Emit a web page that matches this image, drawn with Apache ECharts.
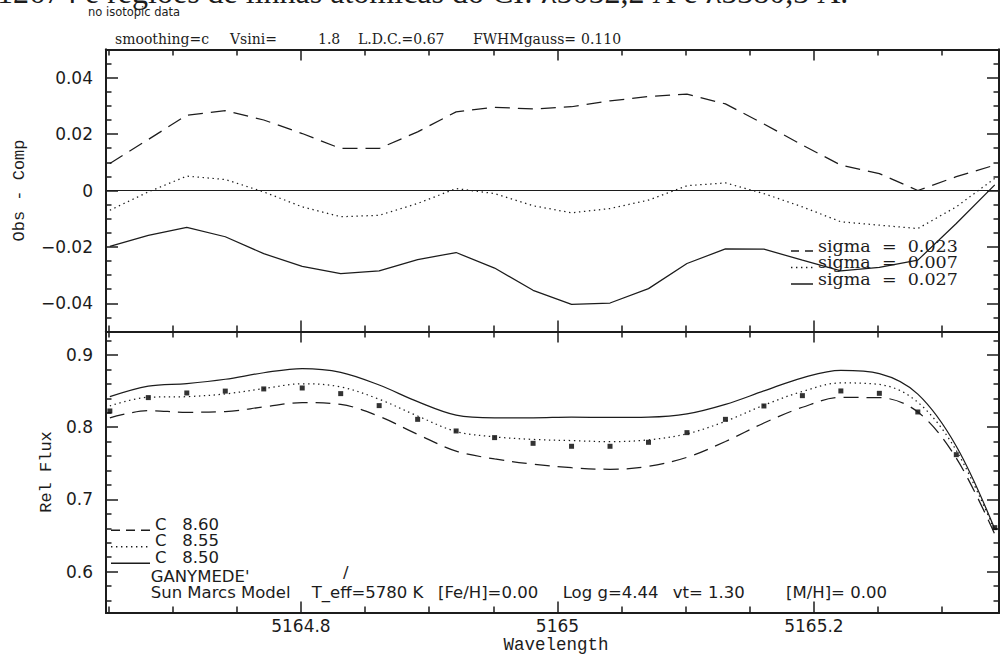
<!DOCTYPE html>
<html><head><meta charset="utf-8">
<script src="https://cdn.jsdelivr.net/npm/echarts@6/dist/echarts.min.js"></script>
<style>html,body{margin:0;padding:0;background:#fff}#c{width:1000px;height:655px}</style>
</head><body><div id="c"></div>
<script>
// ---- data ----
const wavelength = [5164.651, 5164.681, 5164.711, 5164.741, 5164.771, 5164.801, 5164.831, 5164.861,
  5164.891, 5164.921, 5164.951, 5164.981, 5165.011, 5165.041, 5165.071, 5165.101,
  5165.131, 5165.161, 5165.191, 5165.221, 5165.251, 5165.281, 5165.311, 5165.341];
const obsFlux = [0.8225, 0.8410, 0.8474, 0.8500, 0.8530, 0.8543, 0.8465, 0.8299,
  0.8109, 0.7948, 0.7856, 0.7777, 0.7736, 0.7736, 0.7791, 0.7925,
  0.8109, 0.8294, 0.8437, 0.8502, 0.8469, 0.8211, 0.7620, 0.6610];
const resid860 = [0.0096, 0.0181, 0.0267, 0.0283, 0.0250, 0.0202, 0.0149, 0.0149,
  0.0208, 0.0279, 0.0295, 0.0289, 0.0297, 0.0318, 0.0333, 0.0342,
  0.0307, 0.0236, 0.0161, 0.0090, 0.0060, 0.0000, 0.0049, 0.0090];
const resid855 = [-0.0070, -0.0005, 0.0051, 0.0039, -0.0005, -0.0058, -0.0093, -0.0088,
  -0.0046, 0.0007, -0.0011, -0.0054, -0.0079, -0.0064, -0.0034, 0.0017,
  0.0027, -0.0011, -0.0058, -0.0111, -0.0123, -0.0135, -0.0058, 0.0043];
const resid850 = [-0.0198, -0.0159, -0.0131, -0.0164, -0.0224, -0.0269, -0.0295, -0.0285,
  -0.0245, -0.0220, -0.0275, -0.0354, -0.0404, -0.0399, -0.0348, -0.0259,
  -0.0207, -0.0208, -0.0247, -0.0285, -0.0273, -0.0247, -0.0117, 0.0020];
const model860 = [0.8129, 0.8229, 0.8207, 0.8217, 0.8280, 0.8341, 0.8316, 0.8150,
  0.7901, 0.7669, 0.7561, 0.7488, 0.7439, 0.7418, 0.7458, 0.7583,
  0.7802, 0.8058, 0.8276, 0.8412, 0.8409, 0.8211, 0.7571, 0.6520];
const model855 = [0.8295, 0.8415, 0.8423, 0.8461, 0.8535, 0.8601, 0.8558, 0.8387,
  0.8155, 0.7941, 0.7867, 0.7831, 0.7815, 0.7800, 0.7825, 0.7908,
  0.8082, 0.8305, 0.8495, 0.8613, 0.8592, 0.8346, 0.7678, 0.6567];
const model850 = [0.8423, 0.8569, 0.8605, 0.8664, 0.8754, 0.8812, 0.8760, 0.8584,
  0.8354, 0.8168, 0.8131, 0.8131, 0.8140, 0.8135, 0.8139, 0.8184,
  0.8316, 0.8502, 0.8684, 0.8787, 0.8742, 0.8458, 0.7737, 0.6590];

const xMajorTicks = [5164.8, 5165.0, 5165.2];
const xMinorTicks = [5164.65, 5164.70, 5164.75, 5164.85, 5164.90, 5164.95,
  5165.05, 5165.10, 5165.15, 5165.25, 5165.30];
const residMajorTicks = [-0.04, -0.02, 0, 0.02, 0.04];
const residMinorTicks = [-0.045, -0.035, -0.03, -0.025, -0.015, -0.01, -0.005,
  0.005, 0.01, 0.015, 0.025, 0.03, 0.035, 0.045];
const fluxMajorTicks = [0.6, 0.7, 0.8, 0.9];
const fluxMinorTicks = [0.56, 0.58, 0.62, 0.64, 0.66, 0.68, 0.72, 0.74, 0.76, 0.78,
  0.82, 0.84, 0.86, 0.88, 0.92];
const residNames = ['sigma  =  0.023', 'sigma  =  0.007', 'sigma  =  0.027'];
const modelNames = ['C   8.60', 'C   8.55', 'C   8.50'];

const xRange = [5164.648, 5165.3443];
const residRange = [-0.05, 0.05];
const fluxRange = [0.5435, 0.9325];

// ---- styling ----
const INK = '#1c1c1c';
const SANS = '"DejaVu Sans"';
const SERIF = '"DejaVu Serif"';
const MONO = '"Liberation Mono"';

function pairs(xs, ys) { return xs.map((x, i) => [x, ys[i]]); }

function xAx(grid, pos, ticks, len, extra) {
  return Object.assign({
    type: 'value', gridIndex: grid, position: pos, min: xRange[0], max: xRange[1],
    axisLine: { show: true, onZero: false, lineStyle: { color: INK, width: 2 } },
    axisTick: { show: true, inside: true, length: len, customValues: ticks, lineStyle: { color: INK, width: 1.5 } },
    axisLabel: { show: false }, splitLine: { show: false }
  }, extra || {});
}
function yAx(grid, pos, range, ticks, len, extra) {
  return Object.assign({
    type: 'value', gridIndex: grid, position: pos, min: range[0], max: range[1],
    axisLine: { show: true, onZero: false, lineStyle: { color: INK, width: 2 } },
    axisTick: { show: true, inside: true, length: len, customValues: ticks, lineStyle: { color: INK, width: 1.5 } },
    axisLabel: { show: false }, splitLine: { show: false }
  }, extra || {});
}
const tickLabel = { fontFamily: SANS, fontSize: 17, color: INK };

const xAxes = [
  xAx(0, 'bottom', xMajorTicks, 11), xAx(0, 'bottom', xMinorTicks, 6),
  xAx(0, 'top', xMajorTicks, 11), xAx(0, 'top', xMinorTicks, 6),
  xAx(1, 'bottom', xMajorTicks, 11, {
    axisLabel: Object.assign({ show: true, margin: 5, customValues: xMajorTicks,
      formatter: v => String(parseFloat(Number(v).toFixed(1))) }, tickLabel),
    name: 'Wavelength', nameLocation: 'middle', nameGap: 23,
    nameTextStyle: { fontFamily: MONO, fontSize: 17.5, color: INK, padding: [0, 0, 0, 7] }
  }),
  xAx(1, 'bottom', xMinorTicks, 6),
  xAx(1, 'top', xMajorTicks, 11), xAx(1, 'top', xMinorTicks, 6)
];
const yAxes = [
  yAx(0, 'left', residRange, residMajorTicks, 12, {
    axisLabel: Object.assign({ show: true, margin: 13, customValues: residMajorTicks,
      formatter: v => (Math.abs(v) < 1e-9 ? '0' : Number(v).toFixed(2).replace('-', '\u2212')) }, tickLabel),
    name: 'Obs - Comp', nameLocation: 'middle', nameGap: 78,
    nameTextStyle: { fontFamily: MONO, fontSize: 17, color: INK }
  }),
  yAx(0, 'left', residRange, residMinorTicks, 5.5),
  yAx(0, 'right', residRange, residMajorTicks, 12),
  yAx(0, 'right', residRange, residMinorTicks, 5.5),
  yAx(1, 'left', fluxRange, fluxMajorTicks, 12, {
    axisLabel: Object.assign({ show: true, margin: 13, customValues: fluxMajorTicks,
      formatter: v => Number(v).toFixed(1) }, tickLabel),
    name: 'Rel Flux', nameLocation: 'middle', nameGap: 51,
    nameTextStyle: { fontFamily: MONO, fontSize: 17, color: INK }
  }),
  yAx(1, 'left', fluxRange, fluxMinorTicks, 5.5),
  yAx(1, 'right', fluxRange, fluxMajorTicks, 12),
  yAx(1, 'right', fluxRange, fluxMinorTicks, 5.5)
];

const DASH = [15, 8];
const DOT = [1.4, 3.6];
function lineSeries(name, xi, yi, data, type, smooth, extra) {
  return Object.assign({
    name, type: 'line', xAxisIndex: xi, yAxisIndex: yi, data, symbol: 'none', smooth: smooth,
    color: INK, itemStyle: { color: INK },
    lineStyle: { color: INK, width: 1.25, type: type }, animation: false, silent: true
  }, extra || {});
}

const series = [
  lineSeries(residNames[0], 0, 0, pairs(wavelength, resid860), DASH, false),
  lineSeries(residNames[1], 0, 0, pairs(wavelength, resid855), DOT, false),
  lineSeries(residNames[2], 0, 0, pairs(wavelength, resid850), 'solid', false, {
    markLine: { silent: true, symbol: 'none', label: { show: false }, animation: false,
      lineStyle: { color: INK, width: 1, type: 'solid' }, data: [{ yAxis: 0 }] }
  }),
  lineSeries(modelNames[0], 4, 4, pairs(wavelength, model860), DASH, 0.35),
  lineSeries(modelNames[1], 4, 4, pairs(wavelength, model855), DOT, 0.35),
  lineSeries(modelNames[2], 4, 4, pairs(wavelength, model850), 'solid', 0.35),
  { name: 'GANYMEDE\'', type: 'scatter', xAxisIndex: 4, yAxisIndex: 4, data: pairs(wavelength, obsFlux),
    symbol: 'rect', symbolSize: 5, itemStyle: { color: '#000' }, animation: false, silent: true }
];

// legend sample icons: a short line drawn near the bottom of the icon box (as in the reference)
function iconPath(w, y, segs) {
  let p = 'path://M0,0h0.01v0.01h-0.01zM' + w + ',0h-0.01v0.01h0.01z';
  segs.forEach(s => { p += 'M' + s[0] + ',' + y + 'h' + s[1] + 'v1.3h-' + s[1] + 'z'; });
  return p;
}
const upIcons = [
  iconPath(22, 11, [[0, 8], [14, 8]]),
  iconPath(22, 11, [[0, 1.4], [5, 1.4], [10, 1.4], [15, 1.4], [20, 1.4]]),
  iconPath(22, 11, [[0, 22]])
];
const lowIcons = [
  iconPath(39, 12.5, [[0, 9], [15, 9], [30, 9]]),
  iconPath(39, 12.5, [[0, 1.4], [5, 1.4], [10, 1.4], [15, 1.4], [20, 1.4], [25, 1.4], [30, 1.4], [35, 1.4]]),
  iconPath(39, 12.5, [[0, 39]])
];

function txt(text, x, y, font, align) {
  return { type: 'text', x: x, y: y, silent: true,
    style: { text: text, font: font, fill: INK, align: align || 'left', verticalAlign: 'middle' } };
}
const capFont = '32px "Liberation Serif"';
const titleFont = '14px ' + SERIF;
const infoFont = '16.5px ' + SANS;
const graphic = [
  txt('12674 e regiões de linhas atômicas do CI: λ5052,2 Å e λ5380,3 Å.', -3, -8, capFont),
  txt('no isotopic data', 88, 12, '11.5px ' + SANS),
  txt('smoothing=c', 115, 38.5, titleFont),
  txt('Vsini=', 230, 38.5, titleFont),
  txt('1.8', 318, 38.5, titleFont),
  txt('L.D.C.=0.67', 358, 38.5, titleFont),
  txt('FWHMgauss=', 473, 38.5, titleFont),
  txt('0.110', 581, 38.5, titleFont),
  txt('GANYMEDE\'', 150.7, 576.5, infoFont),
  txt('/', 343, 572, infoFont),
  txt('Sun Marcs Model', 150.7, 592.5, infoFont),
  txt('T_eff=5780 K', 311.7, 592.5, infoFont),
  txt('[Fe/H]=0.00', 438, 592.5, infoFont),
  txt('Log g=4.44', 562.7, 592.5, infoFont),
  txt('vt= 1.30', 672.7, 592.5, infoFont),
  txt('[M/H]= 0.00', 786, 592.5, infoFont)
];

const chart = echarts.init(document.getElementById('c'), null, { renderer: 'svg', width: 1000, height: 655 });
chart.setOption({
  backgroundColor: '#ffffff',
  animation: false,
  grid: [
    { left: 106, top: 49.5, width: 893, height: 282 },
    { left: 106, top: 331.5, width: 893, height: 281 }
  ],
  xAxis: xAxes,
  yAxis: yAxes,
  legend: [
    { orient: 'vertical', left: 786, top: 231.5, itemWidth: 22, itemHeight: 12.3, itemGap: -1.5,
      selectedMode: false, symbolKeepAspect: false,
      itemStyle: { color: INK, opacity: 1, borderWidth: 0 },
      textStyle: { fontFamily: SERIF, fontSize: 17.5, color: INK },
      data: residNames.map((n, i) => ({ name: n, icon: upIcons[i] })) },
    { orient: 'vertical', left: 106, top: 510.5, itemWidth: 39, itemHeight: 13.8, itemGap: -0.5,
      selectedMode: false, symbolKeepAspect: false,
      itemStyle: { color: INK, opacity: 1, borderWidth: 0 },
      textStyle: { fontFamily: SANS, fontSize: 16.5, color: INK },
      data: modelNames.map((n, i) => ({ name: n, icon: lowIcons[i] })) }
  ],
  graphic: graphic,
  series: series
});
</script></body></html>
